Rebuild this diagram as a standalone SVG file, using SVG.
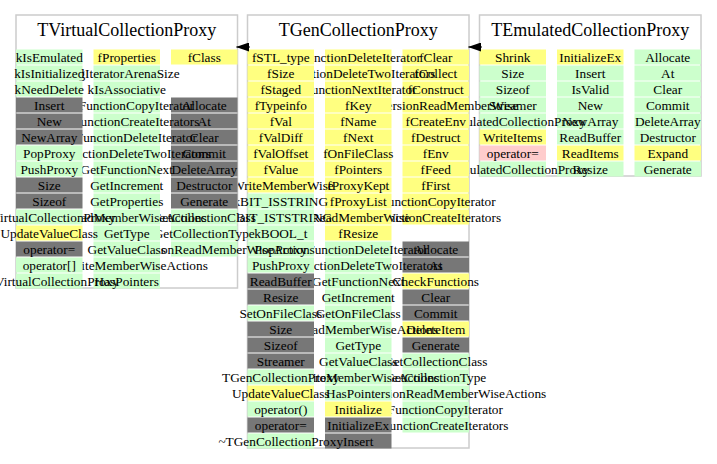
<svg xmlns="http://www.w3.org/2000/svg" width="717" height="464" viewBox="0 0 717 464">
<style>
text{font-family:"Liberation Serif","Times New Roman",serif;font-size:13.3px;fill:#000;text-anchor:middle}
text.h{font-size:18px}
.box{fill:#fff;stroke:#cccccc;stroke-width:1.5}
.y{fill:#ffff80}.g{fill:#ccffcc}.d{fill:#777777}.p{fill:#ffcccc}
.edge{stroke:#000;stroke-width:1;fill:none}
</style>
<defs>
<marker id="arr" markerUnits="userSpaceOnUse" markerWidth="13" markerHeight="9" refX="12.5" refY="4.5" orient="auto">
<path d="M0,0 L13,4.5 L0,9 Z" fill="#000"/>
</marker>
</defs>

<g id="TEmulatedCollectionProxy">
<rect class="box" x="479.5" y="15" width="221.5" height="161"/>
<text class="h" x="590.25" y="36">TEmulatedCollectionProxy</text>
<rect class="g" x="634.5" y="49.5" width="66.5" height="15"/><text x="667.75" y="61.5">Allocate</text>
<rect class="g" x="634.5" y="65.5" width="66.5" height="15"/><text x="667.75" y="77.5">At</text>
<rect class="g" x="634.5" y="81.5" width="66.5" height="15"/><text x="667.75" y="93.5">Clear</text>
<rect class="g" x="634.5" y="97.5" width="66.5" height="15"/><text x="667.75" y="109.5">Commit</text>
<rect class="g" x="634.5" y="113.5" width="66.5" height="15"/><text x="667.75" y="125.5">DeleteArray</text>
<rect class="g" x="634.5" y="129.5" width="66.5" height="15"/><text x="667.75" y="141.5">Destructor</text>
<rect class="y" x="634.5" y="145.5" width="66.5" height="15"/><text x="667.75" y="157.5">Expand</text>
<rect class="g" x="634.5" y="161.5" width="66.5" height="15"/><text x="667.75" y="173.5">Generate</text>
<rect class="y" x="557" y="49.5" width="66.5" height="15"/><text x="590.25" y="61.5">InitializeEx</text>
<rect class="g" x="557" y="65.5" width="66.5" height="15"/><text x="590.25" y="77.5">Insert</text>
<rect class="g" x="557" y="81.5" width="66.5" height="15"/><text x="590.25" y="93.5">IsValid</text>
<rect class="g" x="557" y="97.5" width="66.5" height="15"/><text x="590.25" y="109.5">New</text>
<rect class="g" x="557" y="113.5" width="66.5" height="15"/><text x="590.25" y="125.5">NewArray</text>
<rect class="g" x="557" y="129.5" width="66.5" height="15"/><text x="590.25" y="141.5">ReadBuffer</text>
<rect class="y" x="557" y="145.5" width="66.5" height="15"/><text x="590.25" y="157.5">ReadItems</text>
<rect class="g" x="557" y="161.5" width="66.5" height="15"/><text x="590.25" y="173.5">Resize</text>
<rect class="y" x="479.5" y="49.5" width="66.5" height="15"/><text x="512.75" y="61.5">Shrink</text>
<rect class="g" x="479.5" y="65.5" width="66.5" height="15"/><text x="512.75" y="77.5">Size</text>
<rect class="g" x="479.5" y="81.5" width="66.5" height="15"/><text x="512.75" y="93.5">Sizeof</text>
<rect class="g" x="479.5" y="97.5" width="66.5" height="15"/><text x="512.75" y="109.5">Streamer</text>
<rect class="g" x="479.5" y="113.5" width="66.5" height="15"/><text x="512.75" y="125.5">TEmulatedCollectionProxy</text>
<rect class="y" x="479.5" y="129.5" width="66.5" height="15"/><text x="512.75" y="141.5">WriteItems</text>
<rect class="p" x="479.5" y="145.5" width="66.5" height="15"/><text x="512.75" y="157.5">operator=</text>
<rect class="g" x="479.5" y="161.5" width="66.5" height="15"/><text x="512.75" y="173.5">~TEmulatedCollectionProxy</text>
</g>

<g id="TGenCollectionProxy">
<rect class="box" x="247.5" y="15" width="221.5" height="433"/>
<text class="h" x="358.25" y="36">TGenCollectionProxy</text>
<rect class="y" x="402.5" y="49.5" width="66.5" height="15"/><text x="435.75" y="61.5">fClear</text>
<rect class="y" x="402.5" y="65.5" width="66.5" height="15"/><text x="435.75" y="77.5">fCollect</text>
<rect class="y" x="402.5" y="81.5" width="66.5" height="15"/><text x="435.75" y="93.5">fConstruct</text>
<rect class="y" x="402.5" y="97.5" width="66.5" height="15"/><text x="435.75" y="109.5">fConversionReadMemberWise</text>
<rect class="y" x="402.5" y="113.5" width="66.5" height="15"/><text x="435.75" y="125.5">fCreateEnv</text>
<rect class="y" x="402.5" y="129.5" width="66.5" height="15"/><text x="435.75" y="141.5">fDestruct</text>
<rect class="y" x="402.5" y="145.5" width="66.5" height="15"/><text x="435.75" y="157.5">fEnv</text>
<rect class="y" x="402.5" y="161.5" width="66.5" height="15"/><text x="435.75" y="173.5">fFeed</text>
<rect class="y" x="402.5" y="177.5" width="66.5" height="15"/><text x="435.75" y="189.5">fFirst</text>
<rect class="y" x="402.5" y="193.5" width="66.5" height="15"/><text x="435.75" y="205.5">fFunctionCopyIterator</text>
<rect class="y" x="402.5" y="209.5" width="66.5" height="15"/><text x="435.75" y="221.5">fFunctionCreateIterators</text>
<rect class="d" x="402.5" y="241.5" width="66.5" height="15"/><text x="435.75" y="253.5">Allocate</text>
<rect class="d" x="402.5" y="257.5" width="66.5" height="15"/><text x="435.75" y="269.5">At</text>
<rect class="y" x="402.5" y="273.5" width="66.5" height="15"/><text x="435.75" y="285.5">CheckFunctions</text>
<rect class="d" x="402.5" y="289.5" width="66.5" height="15"/><text x="435.75" y="301.5">Clear</text>
<rect class="d" x="402.5" y="305.5" width="66.5" height="15"/><text x="435.75" y="317.5">Commit</text>
<rect class="y" x="402.5" y="321.5" width="66.5" height="15"/><text x="435.75" y="333.5">DeleteItem</text>
<rect class="d" x="402.5" y="337.5" width="66.5" height="15"/><text x="435.75" y="349.5">Generate</text>
<rect class="g" x="402.5" y="353.5" width="66.5" height="15"/><text x="435.75" y="365.5">GetCollectionClass</text>
<rect class="g" x="402.5" y="369.5" width="66.5" height="15"/><text x="435.75" y="381.5">GetCollectionType</text>
<rect class="g" x="402.5" y="385.5" width="66.5" height="15"/><text x="435.75" y="397.5">GetConversionReadMemberWiseActions</text>
<rect class="g" x="402.5" y="401.5" width="66.5" height="15"/><text x="435.75" y="413.5">GetFunctionCopyIterator</text>
<rect class="g" x="402.5" y="417.5" width="66.5" height="15"/><text x="435.75" y="429.5">GetFunctionCreateIterators</text>
<rect class="y" x="325" y="49.5" width="66.5" height="15"/><text x="358.25" y="61.5">fFunctionDeleteIterator</text>
<rect class="y" x="325" y="65.5" width="66.5" height="15"/><text x="358.25" y="77.5">fFunctionDeleteTwoIterators</text>
<rect class="y" x="325" y="81.5" width="66.5" height="15"/><text x="358.25" y="93.5">fFunctionNextIterator</text>
<rect class="y" x="325" y="97.5" width="66.5" height="15"/><text x="358.25" y="109.5">fKey</text>
<rect class="y" x="325" y="113.5" width="66.5" height="15"/><text x="358.25" y="125.5">fName</text>
<rect class="y" x="325" y="129.5" width="66.5" height="15"/><text x="358.25" y="141.5">fNext</text>
<rect class="y" x="325" y="145.5" width="66.5" height="15"/><text x="358.25" y="157.5">fOnFileClass</text>
<rect class="y" x="325" y="161.5" width="66.5" height="15"/><text x="358.25" y="173.5">fPointers</text>
<rect class="y" x="325" y="177.5" width="66.5" height="15"/><text x="358.25" y="189.5">fProxyKept</text>
<rect class="y" x="325" y="193.5" width="66.5" height="15"/><text x="358.25" y="205.5">fProxyList</text>
<rect class="y" x="325" y="209.5" width="66.5" height="15"/><text x="358.25" y="221.5">fReadMemberWise</text>
<rect class="y" x="325" y="225.5" width="66.5" height="15"/><text x="358.25" y="237.5">fResize</text>
<rect class="g" x="325" y="241.5" width="66.5" height="15"/><text x="358.25" y="253.5">GetFunctionDeleteIterator</text>
<rect class="g" x="325" y="257.5" width="66.5" height="15"/><text x="358.25" y="269.5">GetFunctionDeleteTwoIterators</text>
<rect class="g" x="325" y="273.5" width="66.5" height="15"/><text x="358.25" y="285.5">GetFunctionNext</text>
<rect class="g" x="325" y="289.5" width="66.5" height="15"/><text x="358.25" y="301.5">GetIncrement</text>
<rect class="g" x="325" y="305.5" width="66.5" height="15"/><text x="358.25" y="317.5">GetOnFileClass</text>
<rect class="g" x="325" y="321.5" width="66.5" height="15"/><text x="358.25" y="333.5">GetReadMemberWiseActions</text>
<rect class="g" x="325" y="337.5" width="66.5" height="15"/><text x="358.25" y="349.5">GetType</text>
<rect class="g" x="325" y="353.5" width="66.5" height="15"/><text x="358.25" y="365.5">GetValueClass</text>
<rect class="g" x="325" y="369.5" width="66.5" height="15"/><text x="358.25" y="381.5">GetWriteMemberWiseActions</text>
<rect class="g" x="325" y="385.5" width="66.5" height="15"/><text x="358.25" y="397.5">HasPointers</text>
<rect class="y" x="325" y="401.5" width="66.5" height="15"/><text x="358.25" y="413.5">Initialize</text>
<rect class="d" x="325" y="417.5" width="66.5" height="15"/><text x="358.25" y="429.5">InitializeEx</text>
<rect class="d" x="325" y="433.5" width="66.5" height="15"/><text x="358.25" y="445.5">Insert</text>
<rect class="y" x="247.5" y="49.5" width="66.5" height="15"/><text x="280.75" y="61.5">fSTL_type</text>
<rect class="y" x="247.5" y="65.5" width="66.5" height="15"/><text x="280.75" y="77.5">fSize</text>
<rect class="y" x="247.5" y="81.5" width="66.5" height="15"/><text x="280.75" y="93.5">fStaged</text>
<rect class="y" x="247.5" y="97.5" width="66.5" height="15"/><text x="280.75" y="109.5">fTypeinfo</text>
<rect class="y" x="247.5" y="113.5" width="66.5" height="15"/><text x="280.75" y="125.5">fVal</text>
<rect class="y" x="247.5" y="129.5" width="66.5" height="15"/><text x="280.75" y="141.5">fValDiff</text>
<rect class="y" x="247.5" y="145.5" width="66.5" height="15"/><text x="280.75" y="157.5">fValOffset</text>
<rect class="y" x="247.5" y="161.5" width="66.5" height="15"/><text x="280.75" y="173.5">fValue</text>
<rect class="y" x="247.5" y="177.5" width="66.5" height="15"/><text x="280.75" y="189.5">fWriteMemberWise</text>
<rect class="g" x="247.5" y="193.5" width="66.5" height="15"/><text x="280.75" y="205.5">kBIT_ISSTRING</text>
<rect class="g" x="247.5" y="209.5" width="66.5" height="15"/><text x="280.75" y="221.5">kBIT_ISTSTRING</text>
<rect class="g" x="247.5" y="225.5" width="66.5" height="15"/><text x="280.75" y="237.5">kBOOL_t</text>
<rect class="g" x="247.5" y="241.5" width="66.5" height="15"/><text x="280.75" y="253.5">PopProxy</text>
<rect class="g" x="247.5" y="257.5" width="66.5" height="15"/><text x="280.75" y="269.5">PushProxy</text>
<rect class="d" x="247.5" y="273.5" width="66.5" height="15"/><text x="280.75" y="285.5">ReadBuffer</text>
<rect class="d" x="247.5" y="289.5" width="66.5" height="15"/><text x="280.75" y="301.5">Resize</text>
<rect class="g" x="247.5" y="305.5" width="66.5" height="15"/><text x="280.75" y="317.5">SetOnFileClass</text>
<rect class="d" x="247.5" y="321.5" width="66.5" height="15"/><text x="280.75" y="333.5">Size</text>
<rect class="d" x="247.5" y="337.5" width="66.5" height="15"/><text x="280.75" y="349.5">Sizeof</text>
<rect class="d" x="247.5" y="353.5" width="66.5" height="15"/><text x="280.75" y="365.5">Streamer</text>
<rect class="g" x="247.5" y="369.5" width="66.5" height="15"/><text x="280.75" y="381.5">TGenCollectionProxy</text>
<rect class="y" x="247.5" y="385.5" width="66.5" height="15"/><text x="280.75" y="397.5">UpdateValueClass</text>
<rect class="g" x="247.5" y="401.5" width="66.5" height="15"/><text x="280.75" y="413.5">operator()</text>
<rect class="d" x="247.5" y="417.5" width="66.5" height="15"/><text x="280.75" y="429.5">operator=</text>
<rect class="g" x="247.5" y="433.5" width="66.5" height="15"/><text x="280.75" y="445.5">~TGenCollectionProxy</text>
</g>

<g id="TVirtualCollectionProxy">
<rect class="box" x="16" y="15" width="221.5" height="273"/>
<text class="h" x="126.75" y="36">TVirtualCollectionProxy</text>
<rect class="y" x="171" y="49.5" width="66.5" height="15"/><text x="204.25" y="61.5">fClass</text>
<rect class="d" x="171" y="97.5" width="66.5" height="15"/><text x="204.25" y="109.5">Allocate</text>
<rect class="d" x="171" y="113.5" width="66.5" height="15"/><text x="204.25" y="125.5">At</text>
<rect class="d" x="171" y="129.5" width="66.5" height="15"/><text x="204.25" y="141.5">Clear</text>
<rect class="d" x="171" y="145.5" width="66.5" height="15"/><text x="204.25" y="157.5">Commit</text>
<rect class="d" x="171" y="161.5" width="66.5" height="15"/><text x="204.25" y="173.5">DeleteArray</text>
<rect class="d" x="171" y="177.5" width="66.5" height="15"/><text x="204.25" y="189.5">Destructor</text>
<rect class="d" x="171" y="193.5" width="66.5" height="15"/><text x="204.25" y="205.5">Generate</text>
<rect class="g" x="171" y="209.5" width="66.5" height="15"/><text x="204.25" y="221.5">GetCollectionClass</text>
<rect class="g" x="171" y="225.5" width="66.5" height="15"/><text x="204.25" y="237.5">GetCollectionType</text>
<rect class="g" x="171" y="241.5" width="66.5" height="15"/><text x="204.25" y="253.5">GetConversionReadMemberWiseActions</text>
<rect class="y" x="93.5" y="49.5" width="66.5" height="15"/><text x="126.75" y="61.5">fProperties</text>
<rect class="g" x="93.5" y="65.5" width="66.5" height="15"/><text x="126.75" y="77.5">fgIteratorArenaSize</text>
<rect class="g" x="93.5" y="81.5" width="66.5" height="15"/><text x="126.75" y="93.5">kIsAssociative</text>
<rect class="g" x="93.5" y="97.5" width="66.5" height="15"/><text x="126.75" y="109.5">GetFunctionCopyIterator</text>
<rect class="g" x="93.5" y="113.5" width="66.5" height="15"/><text x="126.75" y="125.5">GetFunctionCreateIterators</text>
<rect class="g" x="93.5" y="129.5" width="66.5" height="15"/><text x="126.75" y="141.5">GetFunctionDeleteIterator</text>
<rect class="g" x="93.5" y="145.5" width="66.5" height="15"/><text x="126.75" y="157.5">GetFunctionDeleteTwoIterators</text>
<rect class="g" x="93.5" y="161.5" width="66.5" height="15"/><text x="126.75" y="173.5">GetFunctionNext</text>
<rect class="g" x="93.5" y="177.5" width="66.5" height="15"/><text x="126.75" y="189.5">GetIncrement</text>
<rect class="g" x="93.5" y="193.5" width="66.5" height="15"/><text x="126.75" y="205.5">GetProperties</text>
<rect class="g" x="93.5" y="209.5" width="66.5" height="15"/><text x="126.75" y="221.5">GetReadMemberWiseActions</text>
<rect class="g" x="93.5" y="225.5" width="66.5" height="15"/><text x="126.75" y="237.5">GetType</text>
<rect class="g" x="93.5" y="241.5" width="66.5" height="15"/><text x="126.75" y="253.5">GetValueClass</text>
<rect class="g" x="93.5" y="257.5" width="66.5" height="15"/><text x="126.75" y="269.5">GetWriteMemberWiseActions</text>
<rect class="g" x="93.5" y="273.5" width="66.5" height="15"/><text x="126.75" y="285.5">HasPointers</text>
<rect class="g" x="16" y="49.5" width="66.5" height="15"/><text x="49.25" y="61.5">kIsEmulated</text>
<rect class="g" x="16" y="65.5" width="66.5" height="15"/><text x="49.25" y="77.5">kIsInitialized</text>
<rect class="g" x="16" y="81.5" width="66.5" height="15"/><text x="49.25" y="93.5">kNeedDelete</text>
<rect class="d" x="16" y="97.5" width="66.5" height="15"/><text x="49.25" y="109.5">Insert</text>
<rect class="d" x="16" y="113.5" width="66.5" height="15"/><text x="49.25" y="125.5">New</text>
<rect class="d" x="16" y="129.5" width="66.5" height="15"/><text x="49.25" y="141.5">NewArray</text>
<rect class="g" x="16" y="145.5" width="66.5" height="15"/><text x="49.25" y="157.5">PopProxy</text>
<rect class="g" x="16" y="161.5" width="66.5" height="15"/><text x="49.25" y="173.5">PushProxy</text>
<rect class="d" x="16" y="177.5" width="66.5" height="15"/><text x="49.25" y="189.5">Size</text>
<rect class="d" x="16" y="193.5" width="66.5" height="15"/><text x="49.25" y="205.5">Sizeof</text>
<rect class="g" x="16" y="209.5" width="66.5" height="15"/><text x="49.25" y="221.5">TVirtualCollectionProxy</text>
<rect class="y" x="16" y="225.5" width="66.5" height="15"/><text x="49.25" y="237.5">UpdateValueClass</text>
<rect class="d" x="16" y="241.5" width="66.5" height="15"/><text x="49.25" y="253.5">operator=</text>
<rect class="g" x="16" y="257.5" width="66.5" height="15"/><text x="49.25" y="269.5">operator[]</text>
<rect class="g" x="16" y="273.5" width="66.5" height="15"/><text x="49.25" y="285.5">~TVirtualCollectionProxy</text>
</g>

<g id="connectors">
<path class="edge" d="M250,47 H236.5" marker-end="url(#arr)"/>
<path class="edge" d="M482,47 H468.5" marker-end="url(#arr)"/>
</g>
</svg>
